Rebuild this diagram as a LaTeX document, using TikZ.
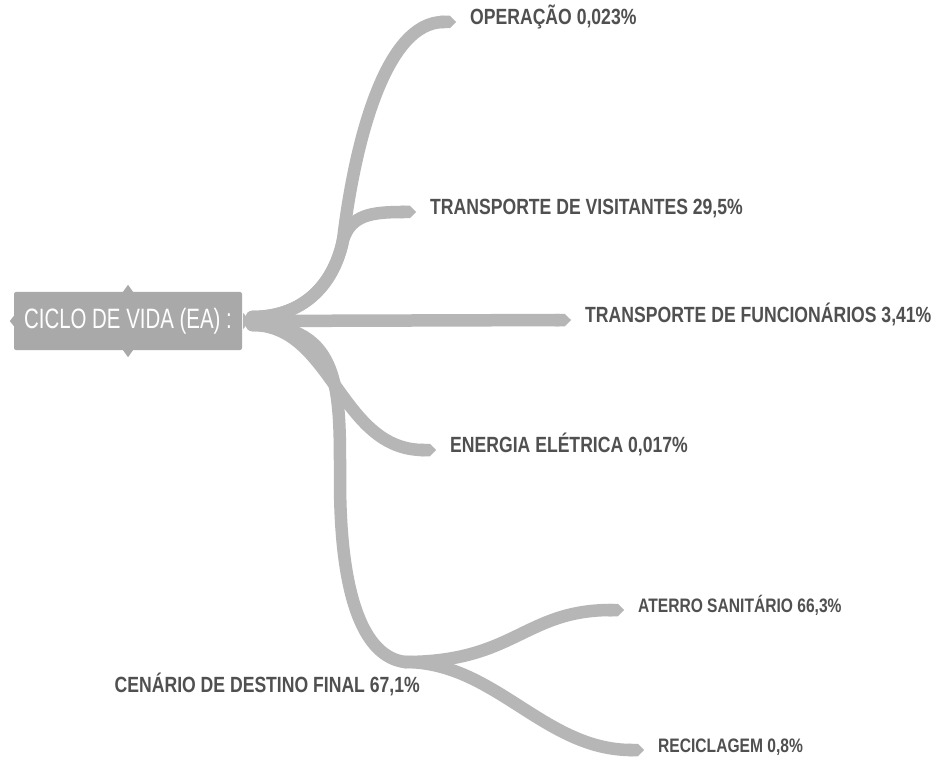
\documentclass[tikz,border=0pt]{standalone}
\usepackage{fontspec}
\setmainfont{Liberation Sans}[FakeStretch=0.8]
\newfontfamily\rootfont{Liberation Sans}[FakeStretch=0.73]
\usetikzlibrary{arrows.meta, positioning, calc}
\definecolor{branchgray}{HTML}{B6B6B6}
\definecolor{boxgray}{HTML}{A9A9A9}
\definecolor{labelgray}{HTML}{505050}

\begin{document}
\begin{tikzpicture}[
  x=1pt, y=-1pt,
  branch/.style={draw=branchgray, line width=12.5pt, line cap=round, -{Triangle Cap}},
  trunk/.style={draw=branchgray, line width=12.5pt, line cap=round},
]

% =============================================
% Styles for the labels
% =============================================
\tikzset{
  rootbox/.style={
    fill=boxgray, rounded corners=2pt, text=white,
    minimum width=228pt, minimum height=58pt, inner sep=0pt,
    font=\rootfont\fontsize{28}{32}\selectfont,
  },
  leaf/.style={
    font=\fontsize{#1}{#1}\selectfont\bfseries, text=labelgray,
    inner sep=0pt, anchor=mid west,
  },
  leaf/.default=22,
}

% =============================================
% Background
% =============================================
\fill[white] (0,0) rectangle (934,759);
\useasboundingbox (0,0) rectangle (934,759);

% =============================================
% Root: Ciclo de vida
% =============================================
\node[rootbox] (root) at (128,321) {CICLO DE VIDA (EA) :};
\fill[boxgray] ([xshift=-5pt]root.north) -- ([yshift=7pt]root.north) -- ([xshift=5pt]root.north) -- cycle;
\fill[boxgray] ([xshift=-5pt]root.south) -- ([yshift=-7pt]root.south) -- ([xshift=5pt]root.south) -- cycle;
\fill[boxgray] ([yshift=5pt]root.west) -- ([xshift=-4pt]root.west) -- ([yshift=-5pt]root.west) -- cycle;
\fill[branchgray] ([yshift=8pt,xshift=1pt]root.east) -- ([xshift=8pt]root.east) -- ([yshift=-8pt,xshift=1pt]root.east) -- cycle;
\coordinate (hub) at ([xshift=10pt]root.east);

% =============================================
% Leaves
% =============================================
\node[leaf] (oper) at (470,22) {OPERAÇÃO 0,023\%};
\node[leaf] (visit) at (430,212) {TRANSPORTE DE VISITANTES 29,5\%};
\node[leaf] (func) at (585,320) {TRANSPORTE DE FUNCIONÁRIOS 3,41\%};
\node[leaf] (energ) at (450,450) {ENERGIA ELÉTRICA 0,017\%};
\coordinate (junc) at (405,662);
\node[leaf=22, anchor=mid east] (dest) at (420,690) {CENÁRIO DE DESTINO FINAL 67,1\%};
\node[leaf=19.5] (aterro) at (638,610) {ATERRO SANITÁRIO 66,3\%};
\node[leaf=19.5] (recic) at (658,750) {RECICLAGEM 0,8\%};

% =============================================
% Branches
% =============================================
\draw[branch] ([yshift=4pt]hub) .. controls +(55,0) and +(-8,40) .. (343,240)
  .. controls +(12,-100) and +(-70,0) .. ([xshift=-14pt]oper.mid west);
\draw[branch] ([yshift=4pt]hub) .. controls +(55,0) and +(-8,40) .. (343,240)
  .. controls +(8,-25) and +(-45,0) .. ([xshift=-14pt]visit.mid west);
\draw[branch] (hub) -- ([xshift=-14pt]func.mid west);
\draw[branch] ([yshift=-4pt]hub) .. controls +(80,0) and +(-96,0) .. ([xshift=-14pt]energ.mid west);
\draw[trunk] ([yshift=-4pt]hub) .. controls +(90,0) and +(0,-90) .. (340,480)
  .. controls +(0,120) and +(-40,-5) .. (junc);

\draw[branch] (junc) .. controls +(110,0) and +(-100,0) .. ([xshift=-14pt]aterro.mid west);
\draw[branch] (junc) .. controls +(90,0) and +(-100,0) .. ([xshift=-14pt]recic.mid west);

\end{tikzpicture}
\end{document}
